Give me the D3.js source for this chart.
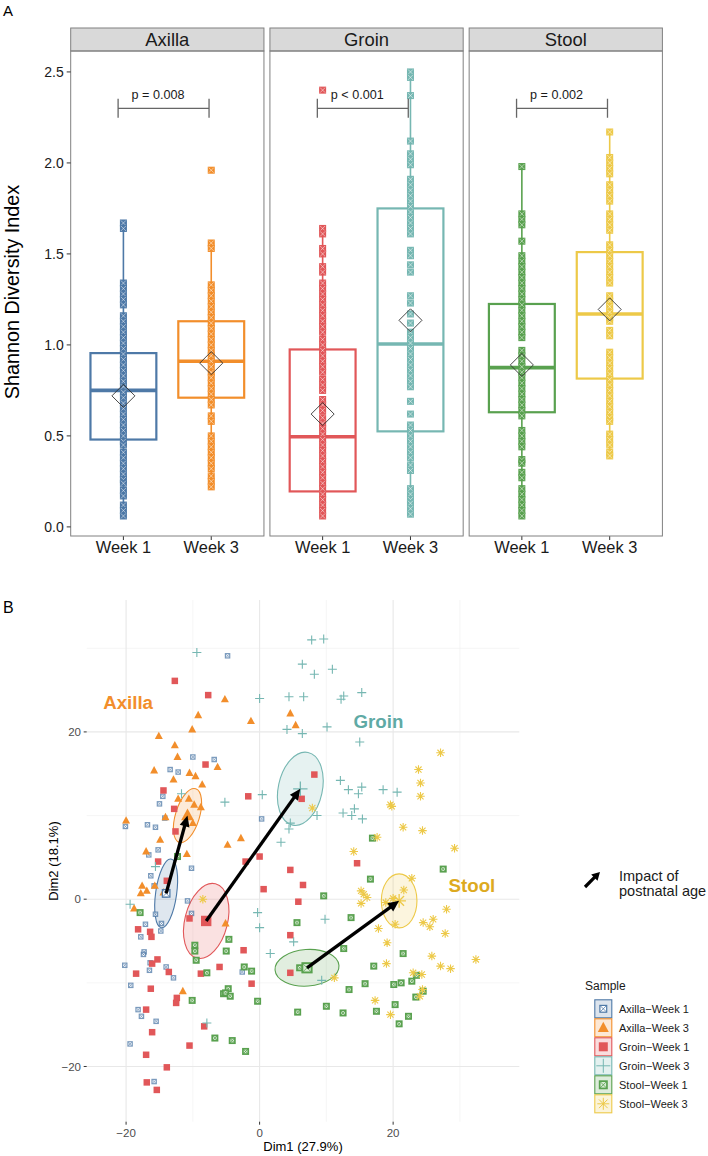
<!DOCTYPE html>
<html lang="en">
<head>
<meta charset="utf-8">
<title>Shannon diversity and PCA</title>
<script src="https://cdn.jsdelivr.net/npm/d3@7"></script>
<style>
  body { margin: 0; background: #ffffff; }
  text { font-family: "Liberation Sans", Arial, sans-serif; }
</style>
</head>
<body>
<div id="chart"></div>
<script>
// ---------- data: panel A ----------
var sites = ["Axilla", "Groin", "Stool"];
var weeks = ["Week 1", "Week 3"];
var groupNames = ["Axilla\u2212Week 1", "Axilla\u2212Week 3", "Groin\u2212Week 1",
                  "Groin\u2212Week 3", "Stool\u2212Week 1", "Stool\u2212Week 3"];
var groupColors = ["#4E79A7", "#F28E2B", "#E15759", "#76B7B2", "#59A14F", "#EDC948"];
var groupShapes = ["squareX", "triangle", "square", "plus", "squareX", "asterisk"];
var shannonTicks = [0, 0.5, 1, 1.5, 2, 2.5];

var shannonAxillaW1 = [1.67, 1.64, 1.34, 1.31, 1.28, 1.25, 1.22, 1.16, 1.13, 1.10, 1.07, 1.04, 1.01, 0.98,
  0.95, 0.92, 0.89, 0.86, 0.83, 0.80, 0.77, 0.74, 0.71, 0.68, 0.65, 0.62, 0.59, 0.56, 0.53, 0.50, 0.47,
  0.45, 0.41, 0.38, 0.35, 0.32, 0.29, 0.26, 0.24, 0.20, 0.17, 0.12, 0.09, 0.06];
var shannonAxillaW3 = [1.96, 1.56, 1.53, 1.33, 1.30, 1.27, 1.24, 1.21, 1.18, 1.15, 1.12, 1.09, 1.06, 1.03,
  1.00, 0.97, 0.94, 0.91, 0.88, 0.85, 0.82, 0.79, 0.76, 0.73, 0.70, 0.67, 0.61, 0.58, 0.50, 0.47, 0.44,
  0.41, 0.38, 0.35, 0.32, 0.28, 0.25, 0.22];
var shannonGroinW1 = [2.40, 1.64, 1.61, 1.53, 1.50, 1.43, 1.40, 1.34, 1.31, 1.28, 1.25, 1.22, 1.19, 1.16,
  1.13, 1.10, 1.07, 1.03, 1.00, 0.97, 0.94, 0.91, 0.88, 0.85, 0.81, 0.78, 0.75, 0.70, 0.67, 0.64, 0.60,
  0.57, 0.54, 0.51, 0.48, 0.45, 0.42, 0.39, 0.36, 0.33, 0.30, 0.27, 0.24, 0.21, 0.18, 0.15, 0.12, 0.09, 0.06];
var shannonGroinW3 = [2.50, 2.47, 2.37, 2.12, 2.05, 2.02, 1.99, 1.91, 1.88, 1.85, 1.82, 1.79, 1.76, 1.73,
  1.70, 1.67, 1.64, 1.61, 1.52, 1.49, 1.44, 1.40, 1.27, 1.23, 1.17, 1.12, 1.07, 1.04, 1.01, 0.98, 0.95,
  0.92, 0.89, 0.86, 0.83, 0.80, 0.77, 0.69, 0.62, 0.56, 0.53, 0.50, 0.47, 0.44, 0.41, 0.38, 0.34, 0.31,
  0.21, 0.18, 0.15, 0.13, 0.10, 0.07];
var shannonStoolW1 = [1.98, 1.72, 1.69, 1.66, 1.57, 1.49, 1.46, 1.43, 1.40, 1.37, 1.34, 1.31, 1.28, 1.25,
  1.22, 1.19, 1.16, 1.13, 1.10, 1.07, 1.04, 0.97, 0.94, 0.91, 0.88, 0.85, 0.82, 0.79, 0.76, 0.73, 0.70,
  0.67, 0.64, 0.61, 0.53, 0.50, 0.47, 0.44, 0.37, 0.35, 0.30, 0.27, 0.21, 0.18, 0.15, 0.12, 0.09, 0.06];
var shannonStoolW3 = [2.17, 2.03, 2.00, 1.97, 1.94, 1.88, 1.85, 1.82, 1.79, 1.72, 1.69, 1.66, 1.63, 1.55,
  1.52, 1.49, 1.46, 1.43, 1.40, 1.37, 1.34, 1.27, 1.24, 1.21, 1.18, 1.15, 1.13, 1.08, 1.05, 0.96, 0.93,
  0.90, 0.87, 0.84, 0.81, 0.78, 0.75, 0.72, 0.69, 0.66, 0.63, 0.60, 0.58, 0.51, 0.48, 0.45, 0.41, 0.39];
var shannonGroups = [shannonAxillaW1, shannonAxillaW3, shannonGroinW1, shannonGroinW3, shannonStoolW1, shannonStoolW3];

// box statistics per group (same order as groupNames)
var boxLow = [0.06, 0.22, 0.06, 0.06, 0.06, 0.39];
var boxQ1 = [0.48, 0.71, 0.195, 0.525, 0.63, 0.815];
var boxMedian = [0.75, 0.91, 0.495, 1.005, 0.875, 1.17];
var boxQ3 = [0.955, 1.13, 0.975, 1.75, 1.225, 1.51];
var boxHigh = [1.67, 1.56, 1.64, 2.50, 1.98, 2.17];
var boxMean = [0.72, 0.90, 0.62, 1.135, 0.89, 1.195];

var pLabels = ["p = 0.008", "p < 0.001", "p = 0.002"];
var bracketLevel = 2.3;

// ---------- data: panel B ----------
var dimTicks = [-20, 0, 20];
var dimMinor = [-30, -10, 10, 30];

var pcaAxillaW1 = [[-4.8, 29.1], [-10.0, 17.0], [-6.8, 16.7], [-13.4, 15.5], [-12.2, 15.2], [-14.5, 12.3],
  [-15.0, 11.4], [-14.2, 9.7], [-20.1, 8.7], [-16.8, 8.9], [-15.6, 8.6], [0.3, 9.6], [-15.2, 5.9],
  [-16.6, 5.3], [-10.2, 3.7], [-16.3, 2.8], [-15.8, 1.6], [-14.2, 0.5], [-15.6, -1.8], [-17.1, -3.0],
  [-14.7, -2.9], [-14.8, -3.8], [-17.8, -4.5], [-17.3, -6.3], [-17.4, -6.6], [-16.4, -7.6], [-20.2, -7.9],
  [-16.5, -8.5], [-14.0, -8.1], [-12.9, -9.4], [-19.3, -10.3], [-18.2, -13.2], [-17.7, -14.0],
  [-15.5, -14.6], [-19.4, -17.3], [-15.8, -21.8], [-10.8, -0.2], [-10.2, -1.7], [-2.6, -8.7]];
var pcaAxillaW3 = [[-5.2, 23.9], [-9.2, 22.0], [-1.3, 21.3], [4.6, 22.2], [5.4, 20.8], [-10.1, 20.3],
  [-15.1, 19.5], [-12.7, 18.4], [-12.3, 17.0], [-6.3, 15.8], [-15.8, 15.4], [-10.5, 15.1], [-9.6, 14.7],
  [-12.9, 14.3], [-8.6, 13.7], [-12.2, 12.0], [-10.6, 12.0], [-9.8, 11.3], [-8.8, 11.0], [-14.1, 9.8],
  [-20.0, 9.4], [-10.0, 9.1], [-14.9, 7.1], [-2.8, 7.3], [-4.8, 6.5], [-17.0, 5.7], [-10.9, 5.4],
  [-17.6, 1.6], [-17.8, 0.7], [-16.9, 1.0], [-15.7, 1.6], [-14.4, 0.8], [-18.8, -1.1], [-5.1, -2.9],
  [-11.5, -11.0]];
var pcaGroinW1 = [[-12.7, 26.1], [-7.7, 24.4], [-8.1, 16.1], [-14.4, 13.0], [-12.8, 10.8], [-1.7, 12.3],
  [-12.6, 8.1], [0.0, 5.1], [-2.1, 4.5], [4.6, 3.5], [-15.2, 4.5], [8.2, 14.9], [6.3, 12.0], [14.6, 4.3],
  [-13.9, 2.2], [-10.5, -2.3], [-18.2, -3.6], [-16.4, -3.9], [-16.2, -4.5], [-15.3, -7.2], [-16.1, -7.7],
  [-13.6, -8.7], [-18.5, -8.9], [-16.3, -10.7], [-12.4, -11.8], [-12.5, -12.4], [-17.0, -13.2],
  [-16.1, -15.9], [-17.0, -18.6], [-13.9, -20.1], [-16.9, -21.9], [-15.4, -22.8], [-2.4, -6.1],
  [-6.0, -8.1], [-8.8, -8.9], [-1.2, -10.1], [-8.3, -15.2], [-10.5, -17.5], [0.6, 1.2], [4.6, -4.3],
  [5.8, -0.3], [4.6, -8.8], [6.5, 1.7]];
var pcaGroinW3 = [[-9.4, 29.5], [0.0, 24.0], [4.4, 24.2], [4.1, 20.3], [-11.7, 12.6], [-5.2, 11.6],
  [0.4, 12.5], [3.2, 6.8], [-15.6, 3.9], [7.8, 31.0], [9.6, 31.1], [6.4, 28.1], [8.2, 26.9], [10.9, 27.5],
  [6.6, 24.2], [12.6, 24.3], [12.2, 23.9], [15.3, 24.7], [6.4, 19.8], [10.1, 20.6], [15.0, 18.8],
  [8.6, 10.0], [4.6, 9.1], [4.4, 8.4], [12.1, 14.2], [13.3, 13.1], [14.8, 12.6], [15.3, 13.4], [18.5, 13.1],
  [20.6, 12.8], [14.2, 10.8], [12.5, 10.3], [13.8, 10.0], [15.4, 9.6], [-19.4, -0.6], [-7.9, -14.8],
  [-0.3, -1.6], [0.0, -3.4], [5.1, -5.1], [1.6, -6.5], [9.8, -2.4], [9.3, -9.7]];
var pcaStoolW1 = [[-12.3, 5.1], [16.9, 7.3], [27.5, 3.6], [16.6, 2.4], [-17.9, -1.6], [-9.7, -5.5],
  [-9.7, -6.2], [-9.5, -7.3], [-4.6, -4.8], [-5.0, -6.2], [-2.3, -8.1], [-1.2, -8.6], [-7.9, -8.8],
  [-4.7, -10.7], [-5.4, -11.3], [-5.1, -11.2], [-4.4, -11.6], [-10.1, -12.1], [-0.3, -12.2], [-6.7, -16.6],
  [-4.1, -16.9], [-2.1, -18.2], [5.6, -2.8], [5.7, -13.5], [9.6, 0.4], [13.7, -2.2], [12.6, -5.9],
  [6.0, -8.2], [10.0, -12.8], [12.5, -13.6], [13.4, -10.8], [15.8, -10.1], [17.1, -8.0], [21.5, -6.5],
  [20.1, -10.2], [21.2, -10.0], [22.8, -9.8], [23.5, -9.1], [24.5, -11.0], [23.4, -11.7], [20.3, -12.6],
  [22.3, -14.0], [20.9, -14.9], [17.5, -13.4]];
var pcaStoolW3 = [[7.9, 10.9], [27.1, 17.5], [23.8, 15.5], [24.1, 13.9], [24.1, 12.3], [19.6, 11.3],
  [19.8, 11.1], [21.5, 8.6], [24.4, 8.2], [29.2, 6.1], [17.6, 7.4], [14.1, 5.7], [-8.5, 0.0], [11.2, -9.4],
  [22.8, 2.5], [21.6, 1.1], [15.2, 1.0], [15.6, 0.6], [16.1, 0.2], [15.2, -0.5], [18.9, -0.4], [20.0, 0.1],
  [20.3, -3.0], [17.8, -3.5], [19.1, -5.2], [19.0, -7.7], [24.5, -2.8], [26.0, -2.4], [25.5, -3.3],
  [28.0, -1.2], [27.8, -4.1], [25.8, -6.8], [27.1, -8.0], [28.6, -8.3], [32.4, -7.2], [23.0, -8.8],
  [24.3, -9.0], [24.4, -10.8], [24.0, -11.6], [17.3, -12.1], [19.6, -13.8]];
var pcaGroups = [pcaAxillaW1, pcaAxillaW3, pcaGroinW1, pcaGroinW3, pcaStoolW1, pcaStoolW3];

// group centroids and concentration ellipses (semi axes in Dim units, angle in degrees)
var centroidDim1 = [-14.0, -10.8, -8.0, 6.1, 7.1, 20.9];
var centroidDim2 = [0.7, 10.0, -2.6, 13.2, -8.2, -0.2];
var ellipseRx = [1.57, 1.8, 3.2, 3.3, 4.8, 2.67];
var ellipseRy = [4.15, 3.35, 4.58, 4.44, 2.19, 3.23];
var ellipseAngle = [8, 17, 14, 12, -4, 0];

var siteLabelDim1 = [-19.7, 17.8, 31.8];
var siteLabelDim2 = [22.7, 20.45, 0.84];
var siteLabelColors = ["#F28E2B", "#5FAAA5", "#DDAA1F"];

// ---------- drawing ----------
var svg = d3.select("#chart").append("svg")
    .attr("width", 708)
    .attr("height", 1156);

function glyph(sel, shape, color, s, opts) {
  opts = opts || {};
  var h = s / 2;
  var sw = opts.sw || 1;
  if (shape === "square") {
    sel.append("rect").attr("x", -h).attr("y", -h).attr("width", s).attr("height", s)
      .attr("fill", color);
  } else if (shape === "squareX") {
    var bw = opts.bw || 1.2;
    sel.append("rect").attr("x", -h + bw / 2).attr("y", -h + bw / 2).attr("width", s - bw).attr("height", s - bw)
      .attr("fill", opts.inner || "#ffffff").attr("stroke", color).attr("stroke-width", bw);
    sel.append("path")
      .attr("d", "M" + (-h + 1) + "," + (-h + 1) + "L" + (h - 1) + "," + (h - 1) +
                 "M" + (-h + 1) + "," + (h - 1) + "L" + (h - 1) + "," + (-h + 1))
      .attr("stroke", opts.xColor || color).attr("stroke-width", opts.xw || 0.8);
  } else if (shape === "triangle") {
    sel.append("path")
      .attr("d", "M0," + (-h * 1.1) + "L" + h + "," + (h * 0.75) + "L" + (-h) + "," + (h * 0.75) + "Z")
      .attr("fill", color);
  } else if (shape === "plus") {
    sel.append("path").attr("d", "M" + (-h) + ",0H" + h + "M0," + (-h) + "V" + h)
      .attr("stroke", color).attr("stroke-width", sw).attr("fill", "none");
  } else if (shape === "asterisk") {
    var d = h * 0.72;
    sel.append("path")
      .attr("d", "M" + (-h) + ",0H" + h + "M0," + (-h) + "V" + h +
                 "M" + (-d) + "," + (-d) + "L" + d + "," + d + "M" + (-d) + "," + d + "L" + d + "," + (-d))
      .attr("stroke", color).attr("stroke-width", sw).attr("fill", "none");
  }
}

function arrow(sel, x1, y1, x2, y2, headLen, headHalf, width) {
  var a = Math.atan2(y2 - y1, x2 - x1);
  var bx = x2 - headLen * Math.cos(a), by = y2 - headLen * Math.sin(a);
  sel.append("line").attr("x1", x1).attr("y1", y1)
    .attr("x2", bx + 2 * Math.cos(a)).attr("y2", by + 2 * Math.sin(a))
    .attr("stroke", "#000").attr("stroke-width", width);
  var px = -Math.sin(a), py = Math.cos(a);
  sel.append("path")
    .attr("d", "M" + x2 + "," + y2 +
               "L" + (bx + px * headHalf) + "," + (by + py * headHalf) +
               "L" + (bx - px * headHalf) + "," + (by - py * headHalf) + "Z")
    .attr("fill", "#000");
}

// ===== Panel A =====
svg.append("text").attr("x", 3).attr("y", 16).attr("font-size", 15).attr("fill", "#000").text("A");

var facet = d3.scaleBand().domain(sites).range([70.7, 662.4]).paddingInner(0.03);
var pw = facet.bandwidth();
var yA = d3.scaleLinear().domain([-0.05, 2.615]).range([536, 51]);
var xWeek = d3.scalePoint().domain(weeks).range([0, pw]).padding(0.6);
var boxW = xWeek.step() * 0.75;

sites.forEach(function (site, si) {
  var g = svg.append("g").attr("transform", "translate(" + facet(site) + ",0)");

  g.append("rect").attr("x", 0).attr("y", 28).attr("width", pw).attr("height", 23)
    .attr("fill", "#D9D9D9").attr("stroke", "#808080").attr("stroke-width", 1);
  g.append("text").attr("x", pw / 2).attr("y", 46).attr("text-anchor", "middle")
    .attr("font-size", 18.4).attr("fill", "#1A1A1A").text(site);

  weeks.forEach(function (wk, wi) {
    var gi = si * 2 + wi;
    var cx = xWeek(wk);
    var col = groupColors[gi];

    g.append("line").attr("x1", cx).attr("x2", cx).attr("y1", yA(boxLow[gi])).attr("y2", yA(boxQ1[gi]))
      .attr("stroke", col).attr("stroke-width", 1.6);
    g.append("line").attr("x1", cx).attr("x2", cx).attr("y1", yA(boxQ3[gi])).attr("y2", yA(boxHigh[gi]))
      .attr("stroke", col).attr("stroke-width", 1.6);
    g.append("rect").attr("x", cx - boxW / 2).attr("y", yA(boxQ3[gi]))
      .attr("width", boxW).attr("height", yA(boxQ1[gi]) - yA(boxQ3[gi]))
      .attr("fill", "none").attr("stroke", col).attr("stroke-width", 2.2);
    g.append("line").attr("x1", cx - boxW / 2).attr("x2", cx + boxW / 2)
      .attr("y1", yA(boxMedian[gi])).attr("y2", yA(boxMedian[gi]))
      .attr("stroke", col).attr("stroke-width", 3.6);

    shannonGroups[gi].forEach(function (v) {
      var p = g.append("g").attr("transform", "translate(" + cx + "," + yA(v) + ")");
      glyph(p, "squareX", col, 7, { inner: col, xColor: "#ffffff", xw: 0.5 });
    });

    var my = yA(boxMean[gi]);
    g.append("path")
      .attr("d", "M" + (cx - 11.5) + "," + my + "L" + cx + "," + (my - 11.5) + "L" + (cx + 11.5) + "," + my +
                 "L" + cx + "," + (my + 11.5) + "Z")
      .attr("fill", "none").attr("stroke", "#333333").attr("stroke-width", 0.9);

    g.append("line").attr("x1", cx).attr("x2", cx).attr("y1", 536).attr("y2", 540)
      .attr("stroke", "#333333");
    g.append("text").attr("x", cx).attr("y", 553).attr("text-anchor", "middle")
      .attr("font-size", 16.4).attr("fill", "#1A1A1A").text(wk);
  });

  g.append("rect").attr("x", 0).attr("y", 51).attr("width", pw).attr("height", 485)
    .attr("fill", "none").attr("stroke", "#808080").attr("stroke-width", 1);

  // comparison bracket
  var bx1 = xWeek(weeks[0]) - 5.3, bx2 = xWeek(weeks[1]) - 2.2, by = yA(bracketLevel);
  g.append("path")
    .attr("d", "M" + bx1 + "," + (by - 9.5) + "V" + (by + 9.5) + "M" + bx1 + "," + by + "H" + bx2 +
               "M" + bx2 + "," + (by - 9.5) + "V" + (by + 9.5))
    .attr("stroke", "#666666").attr("stroke-width", 1.3).attr("fill", "none");
  g.append("text").attr("x", (bx1 + bx2) / 2 - 5.5).attr("y", by - 9.5).attr("text-anchor", "middle")
    .attr("font-size", 12.6).attr("fill", "#1A1A1A").text(pLabels[si]);
});

var yAxisA = svg.append("g");
shannonTicks.forEach(function (t) {
  yAxisA.append("line").attr("x1", facet(sites[0]) - 4).attr("x2", facet(sites[0]))
    .attr("y1", yA(t)).attr("y2", yA(t)).attr("stroke", "#333333");
  yAxisA.append("text").attr("x", facet(sites[0]) - 7).attr("y", yA(t)).attr("dy", "0.36em")
    .attr("text-anchor", "end").attr("font-size", 14).attr("fill", "#1A1A1A").text(d3.format(".1f")(t));
});
svg.append("text").attr("transform", "translate(19,292) rotate(-90)").attr("text-anchor", "middle")
  .attr("font-size", 19.8).attr("fill", "#000").text("Shannon Diversity Index");

// ===== Panel B =====
svg.append("text").attr("x", 3).attr("y", 613).attr("font-size", 16).attr("fill", "#000").text("B");

var xB = d3.scaleLinear().domain([-25.9, 38.9]).range([86.7, 519.3]);
var yB = d3.scaleLinear().domain([-26.6, 35.77]).range([1121.7, 600]);
var kx = xB(1) - xB(0), ky = yB(0) - yB(1);

var grid = svg.append("g");
dimMinor.forEach(function (t) {
  if (t > xB.domain()[0] && t < xB.domain()[1])
    grid.append("line").attr("x1", xB(t)).attr("x2", xB(t)).attr("y1", 600).attr("y2", 1121.7)
      .attr("stroke", "#F0F0F0").attr("stroke-width", 0.7);
  if (t > yB.domain()[0] && t < yB.domain()[1])
    grid.append("line").attr("x1", 86.7).attr("x2", 519.3).attr("y1", yB(t)).attr("y2", yB(t))
      .attr("stroke", "#F0F0F0").attr("stroke-width", 0.7);
});
dimTicks.forEach(function (t) {
  grid.append("line").attr("x1", xB(t)).attr("x2", xB(t)).attr("y1", 600).attr("y2", 1121.7)
    .attr("stroke", "#E8E8E8").attr("stroke-width", 1.1);
  grid.append("line").attr("x1", 86.7).attr("x2", 519.3).attr("y1", yB(t)).attr("y2", yB(t))
    .attr("stroke", "#E8E8E8").attr("stroke-width", 1.1);
  grid.append("line").attr("x1", 83.7).attr("x2", 86.7).attr("y1", yB(t)).attr("y2", yB(t))
    .attr("stroke", "#333333");
  grid.append("line").attr("x1", xB(t)).attr("x2", xB(t)).attr("y1", 1121.7).attr("y2", 1124.7)
    .attr("stroke", "#333333");
  grid.append("text").attr("x", 81).attr("y", yB(t)).attr("dy", "0.36em").attr("text-anchor", "end")
    .attr("font-size", 11.5).attr("fill", "#4D4D4D").text(d3.format("")(t).replace("-", "\u2212"));
  grid.append("text").attr("x", xB(t)).attr("y", 1137).attr("text-anchor", "middle")
    .attr("font-size", 11.5).attr("fill", "#4D4D4D").text(d3.format("")(t).replace("-", "\u2212"));
});

// ellipses
groupNames.forEach(function (name, gi) {
  svg.append("ellipse")
    .attr("transform", "translate(" + xB(centroidDim1[gi]) + "," + yB(centroidDim2[gi]) + ") rotate(" + ellipseAngle[gi] + ")")
    .attr("rx", ellipseRx[gi] * kx).attr("ry", ellipseRy[gi] * ky)
    .attr("fill", groupColors[gi]).attr("fill-opacity", 0.18)
    .attr("stroke", groupColors[gi]).attr("stroke-width", 1.1);
});

// points
var pointSize = [5.5, 8, 6.5, 9, 7, 8.5];
var pointInner = ["#ffffff", null, null, null, "#D6EAD3", null];
groupNames.forEach(function (name, gi) {
  pcaGroups[gi].forEach(function (d) {
    var p = svg.append("g").attr("transform", "translate(" + xB(d[0]) + "," + yB(d[1]) + ")");
    if (gi === 0) p.attr("opacity", 0.75);
    glyph(p, groupShapes[gi], groupColors[gi], pointSize[gi],
          { sw: 1.1, inner: pointInner[gi], bw: gi === 4 ? 1.7 : 1.2 });
  });
});

// centroid markers
groupNames.forEach(function (name, gi) {
  var p = svg.append("g").attr("transform", "translate(" + xB(centroidDim1[gi]) + "," + yB(centroidDim2[gi]) + ")");
  glyph(p, groupShapes[gi], groupColors[gi], pointSize[gi] * 1.6,
        { sw: 1.3, inner: pointInner[gi], bw: gi === 4 ? 1.9 : 1.3 });
});

// age arrows (week 1 centroid -> week 3 centroid)
sites.forEach(function (site, si) {
  arrow(svg, xB(centroidDim1[si * 2]), yB(centroidDim2[si * 2]),
        xB(centroidDim1[si * 2 + 1]), yB(centroidDim2[si * 2 + 1]), 11, 5, 3.3);
  svg.append("text").attr("x", xB(siteLabelDim1[si])).attr("y", yB(siteLabelDim2[si]))
    .attr("text-anchor", "middle").attr("font-size", 18.7).attr("font-weight", "bold")
    .attr("fill", siteLabelColors[si]).text(site);
});

// axis titles
svg.append("text").attr("x", (86.7 + 519.3) / 2).attr("y", 1151).attr("text-anchor", "middle")
  .attr("font-size", 13).attr("fill", "#000").text("Dim1 (27.9%)");
svg.append("text").attr("transform", "translate(58,861) rotate(-90)").attr("text-anchor", "middle")
  .attr("font-size", 13).attr("fill", "#000").text("Dim2 (18.1%)");

// arrow legend
arrow(svg, 585, 887, 600, 872, 8, 4.5, 3.2);
svg.append("text").attr("x", 619).attr("y", 880.5).attr("font-size", 14.5).attr("fill", "#1A1A1A").text("Impact of");
svg.append("text").attr("x", 619).attr("y", 895.5).attr("font-size", 14.5).attr("fill", "#1A1A1A").text("postnatal age");

// sample legend
var legendSizes = [8, 11, 9, 14, 9, 12];
svg.append("text").attr("x", 585).attr("y", 990).attr("font-size", 12).attr("fill", "#1A1A1A").text("Sample");
groupNames.forEach(function (name, gi) {
  var top = 999.3 + gi * 19;
  svg.append("rect").attr("x", 594.8).attr("y", top + 0.5).attr("width", 17).attr("height", 18)
    .attr("fill", groupColors[gi]).attr("fill-opacity", 0.2)
    .attr("stroke", groupColors[gi]).attr("stroke-width", 1.1);
  var p = svg.append("g").attr("transform", "translate(603.3," + (top + 9.5) + ")");
  glyph(p, groupShapes[gi], groupColors[gi], legendSizes[gi],
        { sw: 1, inner: pointInner[gi], bw: gi === 4 ? 1.7 : 1.2 });
  svg.append("text").attr("x", 619).attr("y", top + 13.5).attr("font-size", 11)
    .attr("fill", "#1A1A1A").text(name);
});
</script>
</body>
</html>
